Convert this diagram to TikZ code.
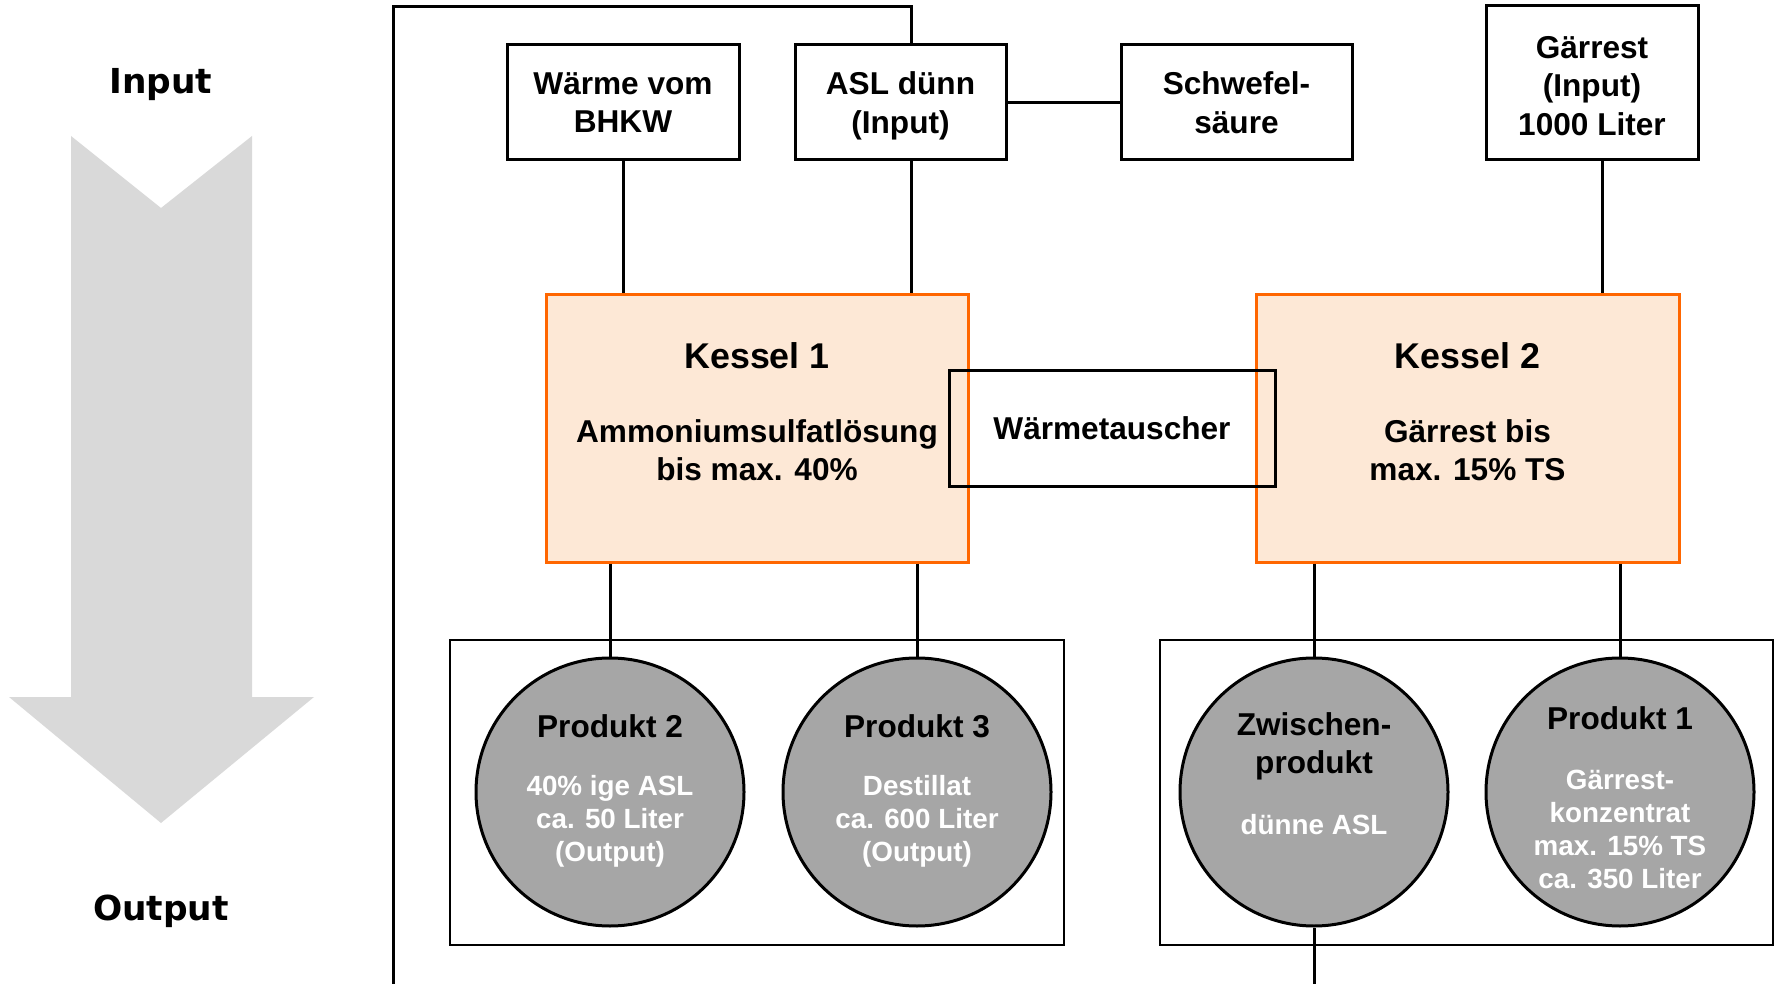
\documentclass[tikz,border=0pt]{standalone}
\usepackage{fontspec}
\setmainfont{Liberation Sans}
\newfontfamily\pfeilfont{DejaVu Sans}
\usepackage{xcolor}
\usepackage{tikz}

\definecolor{kesselfill}{RGB}{253,232,214}
\definecolor{kesselrand}{RGB}{255,102,0}
\definecolor{produktgrau}{RGB}{166,166,166}
\definecolor{pfeilgrau}{RGB}{217,217,217}

\tikzset{
    leitung/.style={draw=black,line width=1.5pt},
    eingang/.style={draw=black,line width=1.5pt,fill=white,inner sep=0pt,align=center,text depth=0pt,
        font=\fontsize{15.8}{19.3}\selectfont\bfseries},
    kessel/.style={draw=kesselrand,fill=kesselfill,line width=1.5pt,inner sep=0pt,
        minimum width=211pt,minimum height=133.5pt},
    kesseltitel/.style={inner sep=0pt,font=\fontsize{17.9}{21}\selectfont\bfseries},
    kesseltext/.style={inner sep=0pt,align=center,font=\fontsize{15.8}{19}\selectfont\bfseries},
    gruppe/.style={draw=black,line width=0.75pt,inner sep=0pt,minimum width=307pt,minimum height=152.5pt},
    produkt/.style={circle,draw=black,fill=produktgrau,line width=1.5pt,inner sep=0pt,minimum size=134pt},
    produkttitel/.style={inner sep=0pt,align=center,font=\fontsize{15.8}{19}\selectfont\bfseries},
    produkttext/.style={inner sep=0pt,align=center,text=white,font=\fontsize{13.9}{16.5}\selectfont\bfseries},
    pfeiltext/.style={inner sep=0pt,font=\pfeilfont\fontsize{17.2}{20}\selectfont\bfseries}
}

\begin{document}
\begin{tikzpicture}[x=0.5pt,y=-0.5pt]
    \useasboundingbox (0,0) rectangle (1779,984);

    % Pfeil links
    \fill[pfeilgrau] (71,136)--(161,208)--(252,136)--(252,697)--(314,697)--(161,823)--(9,697)--(71,697)--cycle;
    \node[pfeiltext] (input) at (161,85) {Input};
    \node[pfeiltext] (output) at (161,911) {Output};

    % Eingaenge
    \node[eingang,minimum width=116pt,minimum height=57.5pt] (waerme) at (623,102.5) {W\"arme vom\\BHKW};
    \node[eingang,minimum width=105.5pt,minimum height=57.5pt] (asl) at (900.5,102.5) {ASL d\"unn\\(Input)};
    \node[eingang,minimum width=115.5pt,minimum height=57.5pt] (schwefel) at (1236.5,102.5) {Schwefel-\\s\"aure};
    \node[eingang,minimum width=106pt,minimum height=77pt] (gaerrest) at (1592,83) {};
    \node[inner sep=0pt,align=center,font=\fontsize{15.8}{19.3}\selectfont\bfseries] (gaerresttext) at (1592,86) {G\"arrest\\(Input)\\1000 Liter};

    % Kessel
    \node[kessel] (k1) at (757,428.5) {};
    \node[kessel,minimum width=211.5pt] (k2) at (1467.5,428.5) {};
    \node[kesseltitel] (k1titel) at (757,356) {Kessel 1};
    \node[kesseltext] (k1text) at (757,450) {Ammoniumsulfatl\"osung\\bis max. 40\%};
    \node[kesseltitel] (k2titel) at (1467.5,356) {Kessel 2};
    \node[kesseltext] (k2text) at (1467.5,450) {G\"arrest bis\\max. 15\% TS};
    \node[draw=black,line width=1.5pt,inner sep=0pt,minimum width=163pt,minimum height=57.5pt,
        font=\fontsize{15.8}{19}\selectfont\bfseries] (tauscher) at (1112,428.5) {W\"armetauscher};

    % Produkte
    \node[gruppe] (links) at (757,792.5) {};
    \node[gruppe,minimum width=306.5pt] (rechts) at (1466.5,792.5) {};
    \node[produkt] (p2) at (610,792) {};
    \node[produkt] (p3) at (917,792) {};
    \node[produkt] (zw) at (1314,792) {};
    \node[produkt] (p1) at (1620,792) {};

    \node[produkttitel] (p2titel) at (610,726) {Produkt 2};
    \node[produkttext] (p2text) at (610,821) {40\% ige ASL\\ca. 50 Liter\\(Output)};
    \node[produkttitel] (p3titel) at (917,726) {Produkt 3};
    \node[produkttext] (p3text) at (917,821) {Destillat\\ca. 600 Liter\\(Output)};
    \node[produkttitel] (zwtitel) at (1314,746) {Zwischen-\\produkt};
    \node[produkttext] (zwtext) at (1314,825) {d\"unne ASL};
    \node[produkttitel] (p1titel) at (1620,718) {Produkt 1};
    \node[produkttext] (p1text) at (1620,829) {G\"arrest-\\konzentrat\\max. 15\% TS\\ca. 350 Liter};

    % Leitungen
    \coordinate (oben) at (911,7);
    \coordinate (ecke) at (393,7);
    \coordinate (fuss) at (393,984);
    \coordinate (gx) at (1602,0);
    \coordinate (ende) at (1314,984);
    \draw[leitung] (asl.north -| oben)--(oben)--(ecke)--(fuss);
    \draw[leitung] (asl.south -| oben)--(k1.north -| oben);
    \draw[leitung] (waerme.south)--(k1.north -| waerme.south);
    \draw[leitung] (asl.east)--(schwefel.west);
    \draw[leitung] (gaerrest.south -| gx)--(k2.north -| gx);
    \draw[leitung] (k1.south -| p2.north)--(p2.north);
    \draw[leitung] (k1.south -| p3.north)--(p3.north);
    \draw[leitung] (k2.south -| zw.north)--(zw.north);
    \draw[leitung] (k2.south -| p1.north)--(p1.north);
    \draw[leitung] (zw.south)--(ende);
\end{tikzpicture}
\end{document}
